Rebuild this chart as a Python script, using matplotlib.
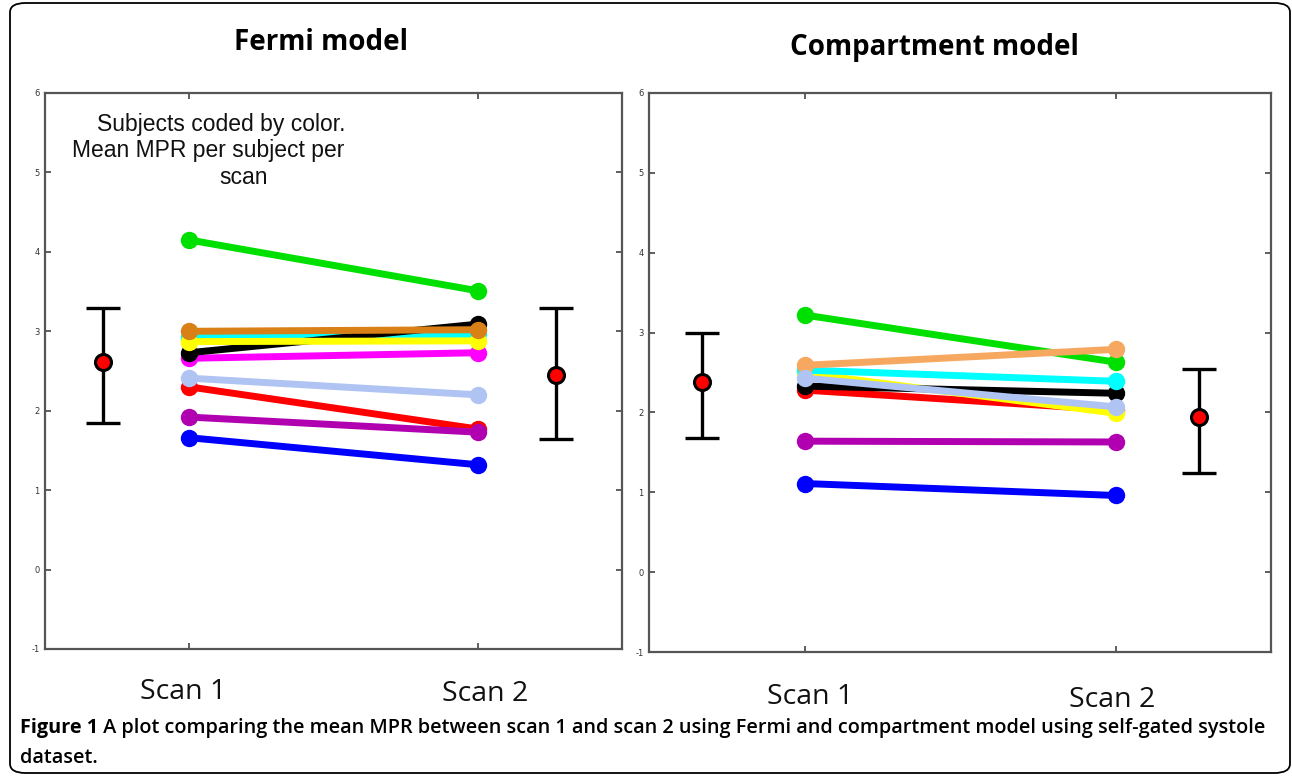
import matplotlib
matplotlib.use("Agg")
import matplotlib.pyplot as plt
from matplotlib.patches import FancyBboxPatch

# ---- data ----
scans = [1, 2]
scan_labels = ["Scan 1", "Scan 2"]
yticks = [-1, 0, 1, 2, 3, 4, 5, 6]

# Fermi model: per subject (scan1, scan2), drawn in this order
fermi_colors = ["#00FFFF", "#FF00FF", "#000000", "#FFFF00", "#D98017",
                "#FF0000", "#B0C4F4", "#B000B0", "#0000FF", "#00E000"]
fermi_scan1 = [2.93, 2.66, 2.73, 2.87, 3.00, 2.30, 2.41, 1.92, 1.66, 4.15]
fermi_scan2 = [2.96, 2.73, 3.09, 2.88, 3.02, 1.77, 2.20, 1.73, 1.32, 3.51]
fermi_mean = [2.61, 2.45]
fermi_low = [1.85, 1.64]
fermi_high = [3.29, 3.29]

# Compartment model
comp_colors = ["#FF0000", "#FFFF00", "#000000", "#00FFFF", "#00E000",
               "#F7A860", "#B0C4F4", "#B000B0", "#0000FF"]
comp_scan1 = [2.28, 2.49, 2.33, 2.53, 3.22, 2.59, 2.43, 1.64, 1.11]
comp_scan2 = [2.03, 1.99, 2.24, 2.39, 2.63, 2.79, 2.07, 1.63, 0.96]
comp_mean = [2.38, 1.94]
comp_low = [1.68, 1.24]
comp_high = [2.99, 2.55]

summary_x_fermi = [0.70, 2.27]
summary_x_comp = [0.67, 2.27]

W, H = 1292, 783
fig = plt.figure(figsize=(W / 100, H / 100), dpi=100)
fig.patch.set_facecolor("white")

# rounded outer frame
frame = FancyBboxPatch((10 / W, 10 / H), 1280 / W, 770 / H,
                       boxstyle="round,pad=0,rounding_size=0.012",
                       transform=fig.transFigure, fill=False,
                       edgecolor="black", linewidth=1.3)
fig.patches.append(frame)


def make_panel(rect, s1, s2, colors, mean, low, high, sx):
    ax = fig.add_axes(rect)
    for a, b, c in zip(s1, s2, colors):
        ax.plot(scans, [a, b], color=c, lw=5, marker="o", ms=11.5,
                solid_capstyle="round", zorder=2)
    for x, m, lo, hi in zip(sx, mean, low, high):
        ax.errorbar([x], [m], yerr=[[m - lo], [hi - m]], fmt="none",
                    ecolor="black", elinewidth=2.4, capsize=12.5,
                    capthick=2.4, zorder=3)
        ax.plot([x], [m], marker="o", ms=11.5, mfc="red", mec="black",
                mew=2.2, zorder=4)
    ax.set_xlim(0.5, 2.5)
    ax.set_ylim(-1, 6)
    ax.set_yticks(yticks)
    ax.set_yticklabels([str(v) for v in yticks])
    ax.set_xticks(scans)
    ax.set_xticklabels([])
    ax.tick_params(axis="both", direction="in", length=4, width=1.2,
                   colors="#444444", labelsize=6, labelcolor="#333333",
                   top=True, right=True, pad=4)
    for sp in ax.spines.values():
        sp.set_color("#555555")
        sp.set_linewidth(1.6)
    return ax


axL = make_panel([45 / W, 1 - 649 / H, 577 / W, 556 / H],
                 fermi_scan1, fermi_scan2, fermi_colors,
                 fermi_mean, fermi_low, fermi_high, summary_x_fermi)
axR = make_panel([649 / W, 1 - 652 / H, 622 / W, 559 / H],
                 comp_scan1, comp_scan2, comp_colors,
                 comp_mean, comp_low, comp_high, summary_x_comp)

# titles
fig.text(321 / W, 1 - 42 / H, "Fermi model", ha="center", va="center",
         fontsize=20, fontweight="bold", family="Open Sans")
fig.text(934 / W, 1 - 48 / H, "Compartment model", ha="center", va="center",
         fontsize=20, fontweight="bold", family="Open Sans")

# annotation in left panel
note_lines = ["Subjects coded by color.", "Mean MPR per subject per", "scan"]
note_x = [221, 208, 244]
note_y = [124, 151, 178]
for t, x, y in zip(note_lines, note_x, note_y):
    fig.text(x / W, 1 - y / H, t, ha="center", va="center", fontsize=16.5,
             family="Liberation Sans", color="#111111")

# scan labels below panels
for t, x, y in zip(scan_labels, [183, 485], [692, 694]):
    fig.text(x / W, 1 - y / H, t, ha="center", va="center", fontsize=20.5,
             family="Open Sans", color="#111111")
for t, x, y in zip(scan_labels, [810, 1112], [697, 700]):
    fig.text(x / W, 1 - y / H, t, ha="center", va="center", fontsize=20.5,
             family="Open Sans", color="#111111")

# caption
cap_bold = "Figure 1"
cap_rest = (" A plot comparing the mean MPR between scan 1 and scan 2 using Fermi "
            "and compartment model using self-gated systole")
t1 = fig.text(20 / W, 1 - 728 / H, cap_bold, ha="left", va="center",
              fontsize=14.3, fontweight="bold", family="Open Sans")
fig.canvas.draw()
bb = t1.get_window_extent()
fig.text(bb.x1 / W, 1 - 728 / H, cap_rest, ha="left", va="center",
         fontsize=14.3, fontweight="semibold", family="Open Sans")
fig.text(20 / W, 1 - 758 / H, "dataset.", ha="left", va="center",
         fontsize=14.3, fontweight="semibold", family="Open Sans")

fig.savefig("out.png", dpi=100)
